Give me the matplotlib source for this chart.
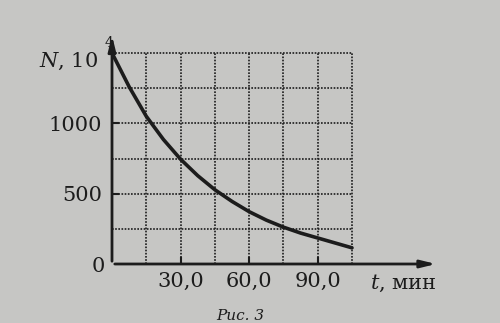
import matplotlib.pyplot as plt

# readings from the picture (t in minutes, N in units of 10^4)
t_min = [0, 7.5, 15, 22.5, 30, 37.5, 45, 52.5, 60, 67.5, 75, 82.5, 90, 97.5, 105]
n_val = [1500, 1260, 1050, 885, 745, 628, 528, 445, 372, 312, 262, 220, 185, 150, 115]

x_ticks = [30, 60, 90]
x_labels = ["30,0", "60,0", "90,0"]
y_ticks = [0, 500, 1000]
y_labels = ["0", "500", "1000"]
x_grid = [15, 30, 45, 60, 75, 90, 105]
y_grid = [250, 500, 750, 1000, 1250, 1500]

paper = "#c6c6c4"
ink = "#1c1c1c"

plt.rcParams['font.family'] = ['DejaVu Serif']
plt.rcParams['mathtext.fontset'] = 'dejavuserif'

fig = plt.figure(figsize=(5, 3.23), dpi=100, facecolor=paper)
ax = fig.add_axes([112/500, (323-264)/323, 240/500, 211/323])
ax.set_facecolor(paper)
ax.set_xlim(0, 105)
ax.set_ylim(0, 1500)

# dotted grid
for gx in x_grid:
    ax.plot([gx, gx], [0, 1500], ls=(0, (1, 0.9)), color=ink, lw=1.2, clip_on=False)
for gy in y_grid:
    ax.plot([0, 105], [gy, gy], ls=(0, (1, 0.9)), color=ink, lw=1.2, clip_on=False)

# curve
ax.plot(t_min, n_val, color=ink, lw=2.6, solid_capstyle='round', clip_on=False)

# axes with arrows
for s in ax.spines.values():
    s.set_visible(False)
ax.annotate("", xy=(143, 0), xytext=(0, 0), xycoords='data',
            arrowprops=dict(arrowstyle='-|>,head_length=0.9,head_width=0.22', color=ink, lw=2), annotation_clip=False)
ax.annotate("", xy=(0, 1645), xytext=(0, 0), xycoords='data',
            arrowprops=dict(arrowstyle='-|>,head_length=0.9,head_width=0.22', color=ink, lw=2), annotation_clip=False)

ax.set_xticks(x_ticks)
ax.set_xticklabels(x_labels, fontsize=15, color=ink)
ax.set_yticks(y_ticks[1:])
ax.set_yticklabels(y_labels[1:], fontsize=15, color=ink)
ax.tick_params(axis='both', direction='in', length=5, width=1.5, color=ink, pad=6)
ax.tick_params(axis='y', pad=7)
ax.text(-3, -15, y_labels[0], ha='right', va='center', fontsize=15, color=ink)

ax.text(-6, 1440, "$N$, 10", ha='right', va='center', fontsize=15, color=ink)
ax.text(-1.5, 1570, "4", ha='center', va='center', fontsize=10, color=ink)
ax.text(142, -140, "$t$, мин", ha='right', va='center', fontsize=15, color=ink)

fig.text(0.48, 0.0, "Рис. 3", ha='center', va='bottom', fontsize=11, style='italic', color=ink)

fig.savefig("out.png", dpi=100, facecolor=paper)
